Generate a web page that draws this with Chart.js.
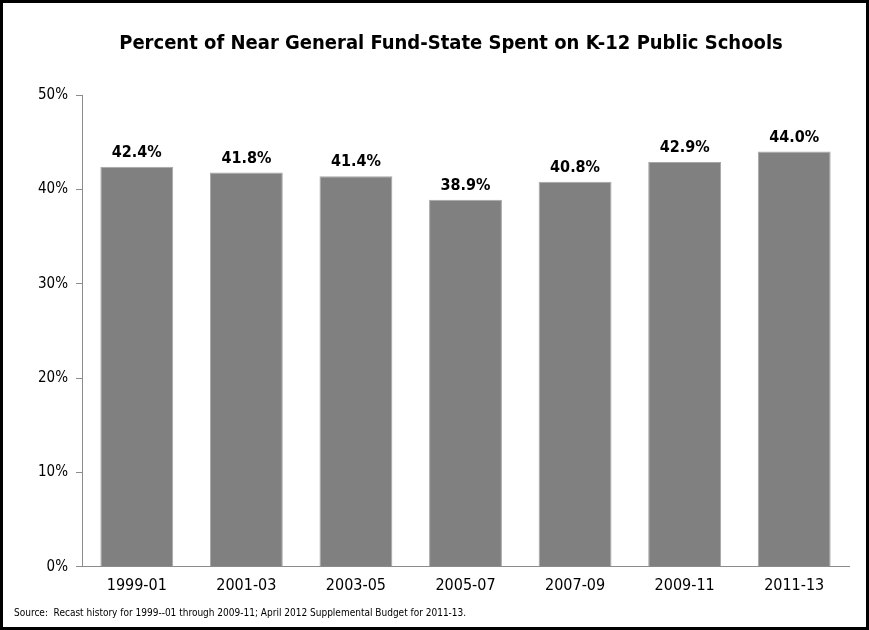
<!DOCTYPE html>
<html>
<head>
<meta charset="utf-8">
<script src="https://cdn.jsdelivr.net/npm/chart.js@4"></script>
<style>
  html, body { margin: 0; padding: 0; background: #fff; }
  #wrap { position: relative; width: 869px; height: 630px; box-sizing: border-box; border: 3px solid #000; }
  canvas { display: block; }
  #source {
    position: absolute; left: 11px; top: 604px;
    font: 10px 'DejaVu Sans Condensed', 'DejaVu Sans', sans-serif;
    line-height: 12px; color: #000; white-space: pre;
  }
</style>
</head>
<body>
<div id="wrap">
  <canvas id="chart" width="863" height="624"></canvas>
  <div id="source">Source:  Recast history for 1999--01 through 2009-11; April 2012 Supplemental Budget for 2011-13.</div>
</div>
<script>
const biennia = ['1999-01', '2001-03', '2003-05', '2005-07', '2007-09', '2009-11', '2011-13'];
const k12Share = [42.4, 41.8, 41.4, 38.9, 40.8, 42.9, 44.0];
const yTicks = [0, 10, 20, 30, 40, 50];

const FONT = "'DejaVu Sans Condensed', 'DejaVu Sans', sans-serif";

// value labels above bars
const barLabels = {
  id: 'barLabels',
  afterDatasetsDraw(chart) {
    const ctx = chart.ctx;
    const meta = chart.getDatasetMeta(0);
    ctx.save();
    ctx.font = 'bold 16px ' + FONT;
    ctx.fillStyle = '#000';
    ctx.textAlign = 'center';
    ctx.textBaseline = 'bottom';
    meta.data.forEach((bar, i) => {
      ctx.fillText(k12Share[i].toFixed(1) + '%', bar.x, bar.y - 6);
    });
    ctx.restore();
  }
};

// the original title sits a little right of the page centre
const titleShift = {
  id: 'titleShift',
  afterLayout(chart) {
    const t = chart.titleBlock;
    if (t) { t.left += 25; t.right += 25; }
  }
};

new Chart(document.getElementById('chart'), {
  type: 'bar',
  data: {
    labels: biennia,
    datasets: [{
      data: k12Share,
      backgroundColor: '#808080',
      borderColor: '#a6a6a6',
      borderWidth: 1,
      barPercentage: 0.665,
      categoryPercentage: 1
    }]
  },
  options: {
    responsive: false,
    animation: false,
    layout: { padding: { left: 0, right: 17, top: 0, bottom: 31 } },
    plugins: {
      legend: { display: false },
      tooltip: { enabled: false },
      title: {
        display: true,
        text: 'Percent of Near General Fund-State Spent on K-12 Public Schools',
        color: '#000',
        font: { family: FONT, size: 20, weight: 'bold' },
        padding: { top: 29, bottom: 39 }
      }
    },
    scales: {
      x: {
        grid: { display: false },
        border: { color: '#8c8c8c', width: 1 },
        ticks: { color: '#000', font: { family: FONT, size: 16 }, padding: 1 }
      },
      y: {
        min: 0,
        max: 50,
        afterBuildTicks(axis) { axis.ticks = yTicks.map(v => ({ value: v })); },
        afterFit(axis) { axis.width = 79; },
        grid: { drawOnChartArea: false, tickLength: 6, color: '#8c8c8c' },
        border: { color: '#8c8c8c', width: 1 },
        ticks: { color: '#000', font: { family: FONT, size: 15 }, padding: 8, callback: v => v + '%' }
      }
    }
  },
  plugins: [barLabels, titleShift]
});
</script>
</body>
</html>
